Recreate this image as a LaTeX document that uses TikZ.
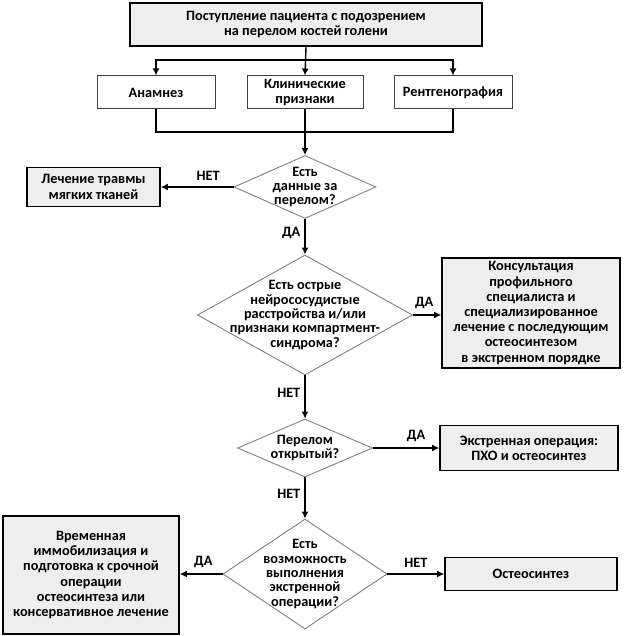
\documentclass[tikz,border=0pt]{standalone}
\usepackage{fontspec}
\setmainfont{Carlito}
\usetikzlibrary{arrows.meta,shapes.geometric}
\definecolor{boxgray}{RGB}{238,238,238}
\definecolor{diagray}{RGB}{128,128,128}
\tikzset{
  base/.style={font=\fontsize{14.3}{15.2}\selectfont\bfseries, align=center, inner sep=0pt},
  graybox/.style={base, draw=black, line width=1.6pt, fill=boxgray, rectangle},
  whitebox/.style={base, draw=black!75, line width=1pt, fill=white, rectangle},
  dia/.style={draw=diagray, line width=0.9pt, diamond, inner sep=0pt, fill=white},
  dtext/.style={base, font=\fontsize{14.3}{14.4}\selectfont\bfseries},
  lbl/.style={font=\fontsize{14.3}{15}\selectfont\bfseries, inner sep=0pt},
  arr/.style={line width=1.4pt, -{Latex[length=7pt,width=7pt]}},
  ln/.style={line width=1.4pt},
}
\begin{document}
\begin{tikzpicture}[x=1pt,y=-1pt]
\useasboundingbox (0,0) rectangle (623,636);
% nodes
\node[graybox, minimum width=352pt, minimum height=43pt] (top) at (306,24.5)
  {\fontsize{14.3}{16.7}\selectfont Поступление пациента с подозрением\\на перелом костей голени};
\node[whitebox, minimum width=118pt, minimum height=33pt] (b1) at (156,92.5) {Анамнез};
\node[whitebox, minimum width=116pt, minimum height=33pt] (b2) at (305,92.5) {Клинические\\признаки};
\node[whitebox, minimum width=118pt, minimum height=33pt] (b3) at (453,92.5) {Рентгенография};
\coordinate (j1) at (305,60);
\coordinate (j2) at (305,132);

\node[dia, minimum width=142pt, minimum height=63pt] (d1) at (305,187) {};
\node[dtext] at (d1) {Есть\\данные за\\перелом?};
\node[graybox, minimum width=133pt, minimum height=39pt] (soft) at (93.5,187) {Лечение травмы\\мягких тканей};

\node[dia, minimum width=215pt, minimum height=120pt] (d2) at (305,315) {};
\node[dtext] at (d2) {Есть острые\\нейрососудистые\\расстройства и/или\\признаки компартмент-\\синдрома?};
\node[graybox, minimum width=178pt, minimum height=110pt] (consult) at (531,313)
  {Консультация\\профильного\\специалиста и\\специализированное\\лечение с последующим\\остеосинтезом\\в экстренном порядке};

\node[dia, minimum width=135pt, minimum height=58pt] (d3) at (305,448) {};
\node[dtext] at (d3) {Перелом\\открытый?};
\node[graybox, minimum width=178pt, minimum height=45pt] (emerg) at (529,448)
  {Экстренная операция:\\ПХО и остеосинтез};

\node[dia, minimum width=164pt, minimum height=110pt] (d4) at (305,574) {};
\node[dtext] at (d4) {Есть\\возможность\\выполнения\\экстренной\\операции?};
\node[graybox, minimum width=176pt, minimum height=118pt] (temp) at (91,575)
  {\fontsize{14.3}{15.6}\selectfont Временная\\иммобилизация и\\подготовка к срочной\\операции\\остеосинтеза или\\консервативное лечение};
\node[graybox, minimum width=172pt, minimum height=33pt] (osteo) at (531,574) {Остеосинтез};

% connectors
\draw[arr] (top.south) -- (b2.north);
\draw[arr] (j1) -| (b1.north);
\draw[arr] (j1) -| (b3.north);
\draw[ln] (b1.south) |- (j2) -| (b3.south);
\draw[arr] (b2.south) -- (d1.north);
\draw[arr] (d1.west) -- node[lbl, above=6pt, pos=0.35] {НЕТ} (soft.east);
\draw[arr] (d1.south) -- node[lbl, left=4pt, pos=0.4] {ДА} (d2.north);
\draw[arr] (d2.east) -- node[lbl, above=6pt, pos=0.4] {ДА} (consult.west |- d2.east);
\draw[arr] (d2.south) -- node[lbl, left=4pt, pos=0.4] {НЕТ} (d3.north);
\draw[arr] (d3.east) -- node[lbl, above=6pt, pos=0.65] {ДА} (emerg.west);
\draw[arr] (d3.south) -- node[lbl, left=4pt, pos=0.4] {НЕТ} (d4.north);
\draw[arr] (d4.west) -- node[lbl, above=6pt, pos=0.45] {ДА} (temp.east |- d4.west);
\draw[arr] (d4.east) -- node[lbl, above=6pt, pos=0.5] {НЕТ} (osteo.west);
\end{tikzpicture}
\end{document}
